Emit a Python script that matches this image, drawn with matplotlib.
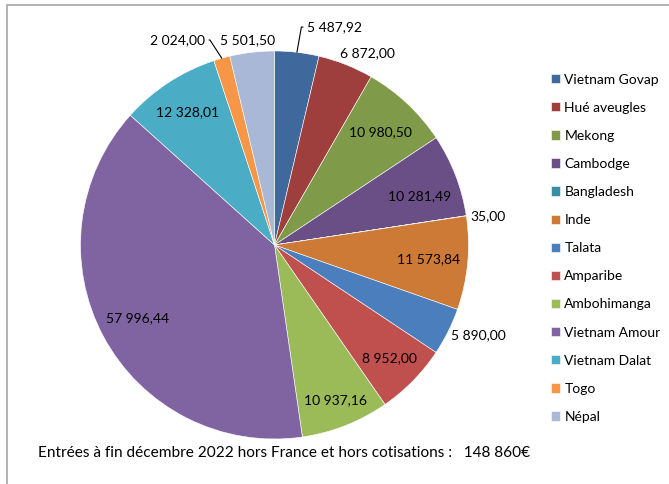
import numpy as np
import matplotlib.pyplot as plt
from matplotlib.patches import Rectangle

plt.rcParams['font.family'] = ['Lato', 'DejaVu Sans']

# data
projects = ['Vietnam Govap', 'Hué aveugles', 'Mekong', 'Cambodge', 'Bangladesh',
            'Inde', 'Talata', 'Amparibe', 'Ambohimanga', 'Vietnam Amour',
            'Vietnam Dalat', 'Togo', 'Népal']
amounts = [5487.92, 6872.00, 10980.50, 10281.49, 35.00, 11573.84, 5890.00,
           8952.00, 10937.16, 57996.44, 12328.01, 2024.00, 5501.50]
colors = ['#3f689c', '#9e3f3d', '#7f9a48', '#6a4f87', '#3a8ea3', '#cd7a37',
          '#4a7ebd', '#c0504d', '#9bbb59', '#8064a2', '#4bacc6', '#f79646',
          '#a9b8d7']
total_text = 'Entrées à fin décembre 2022 hors France et hors cotisations :   148 860€'

# label placement (radius, angle shift in degrees, leader line?)
lab_r = [1.136, 1.10, 0.80, 0.79, 1.0, 0.80, 1.15, 0.83, 0.86, 0.80, 0.82, 1.116, 1.065]
lab_da = [-1.9, -4.1, 0, -2.6, 0, 0, 2.6, 0, 0, 0, 0, 3.0, 0.8]
leader = [True, False, False, False, False, False, False, False, False, False, False, True, False]
leader_ang = [80, 0, 0, 0, 0, 0, 0, 0, 0, 0, 0, 123, 0]


def fmt(v):
    s = f'{v:,.2f}'
    return s.replace(',', ' ').replace('.', ',')


fig = plt.figure(figsize=(6.69, 4.84), dpi=100)
W, H = 669, 484
R = 194.0
cx, cy = 274.5, 484 - 245
lim = 1.35
ax = fig.add_axes([(cx - lim * R) / W, (cy - lim * R) / H, 2 * lim * R / W, 2 * lim * R / H])

wedges, _ = ax.pie(amounts, colors=colors, startangle=90, counterclock=False,
                   radius=1.0, wedgeprops=dict(edgecolor='white', linewidth=0.4))
ax.set_xlim(-lim, lim)
ax.set_ylim(-lim, lim)
ax.set_aspect('equal')
ax.axis('off')

for i, w in enumerate(wedges):
    mid = np.deg2rad((w.theta1 + w.theta2) / 2)
    ang = mid + np.deg2rad(lab_da[i])
    tx, ty = lab_r[i] * np.cos(ang), lab_r[i] * np.sin(ang)
    txt = fmt(amounts[i])
    if leader[i]:
        ex, ey = np.cos(mid), np.sin(mid)
        right = tx > ex
        ax.annotate(txt, xy=(ex, ey), xytext=(tx, ty), fontsize=10,
                    ha='left' if right else 'right', va='center',
                    arrowprops=dict(arrowstyle='-', color='black', lw=0.8,
                                    shrinkA=1, shrinkB=0,
                                    relpos=(0, 0.5) if right else (1, 0.5),
                                    connectionstyle='angle,angleA=0,angleB=%d' % leader_ang[i]))
    elif projects[i] == 'Bangladesh':
        ax.text(np.cos(mid) + 0.02, np.sin(mid), txt, fontsize=10, ha='left', va='center')
    else:
        ax.text(tx, ty, txt, fontsize=10, ha='center', va='center')

leg = fig.legend(wedges, projects, loc='upper left', bbox_to_anchor=(545 / W, 1 - 68 / H),
                 frameon=False, fontsize=10, handlelength=0.65, handleheight=0.65,
                 handletextpad=0.35, labelspacing=1.16, borderaxespad=0)

fig.text(38 / W, 1 - 453 / H, total_text, fontsize=11.1, ha='left', va='center')

fig.patches.append(Rectangle((7 / W, -0.01), 1.0, 1 - 5 / H + 0.01, transform=fig.transFigure,
                             fill=False, edgecolor='#a6a6a6', lw=1.2))

fig.savefig('out.png', dpi=100)
